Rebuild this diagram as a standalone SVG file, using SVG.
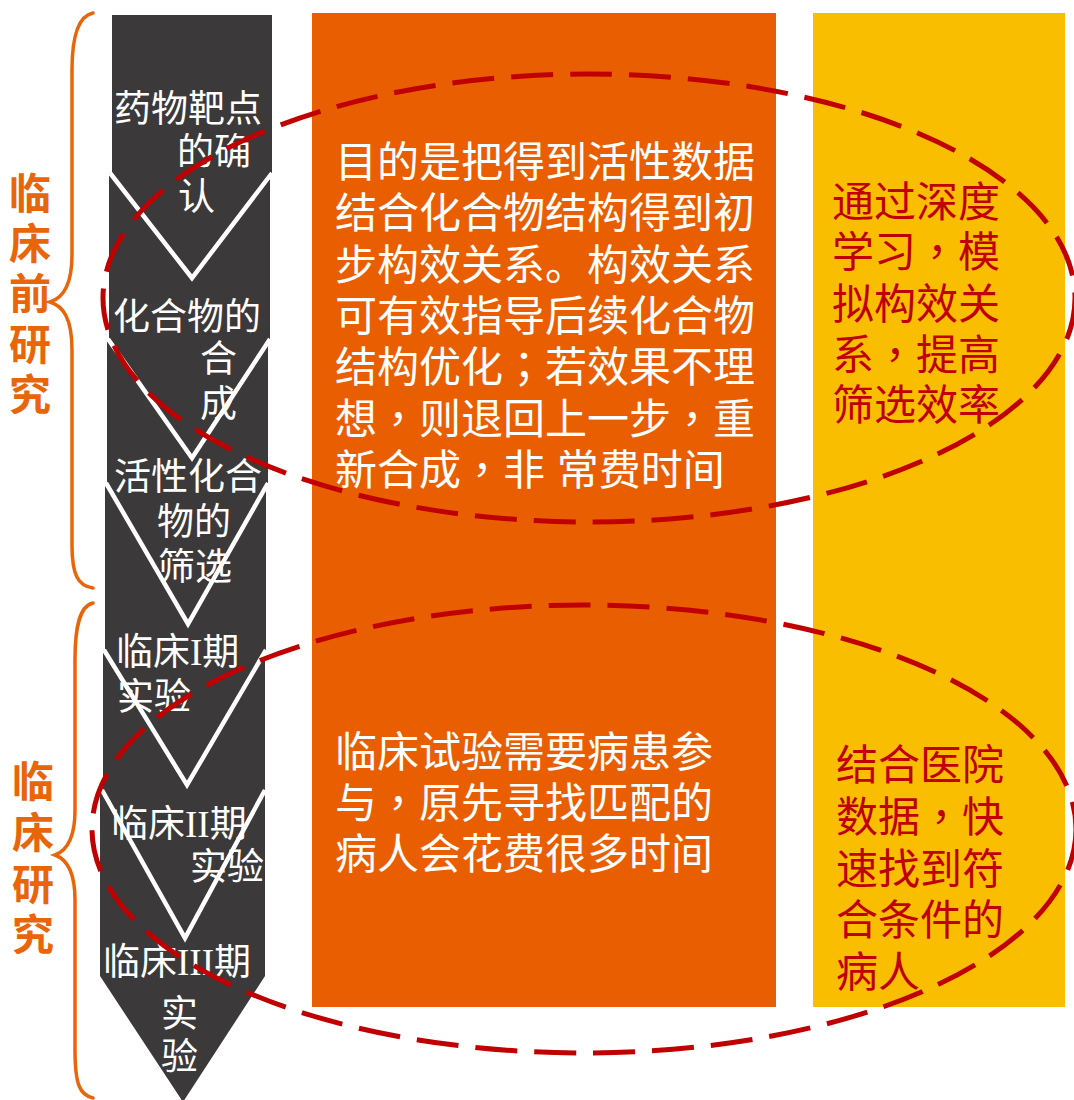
<svg xmlns="http://www.w3.org/2000/svg" width="1074" height="1100" viewBox="0 0 1074 1100">
<style>
.chev{fill:#3b393a}
.gap{fill:none;stroke:#ffffff;stroke-width:4.5;stroke-linejoin:miter}
.ct{font-family:'Liberation Sans','Noto Sans CJK SC',sans-serif;font-size:37px;fill:#ffffff}
.ser{font-family:'Liberation Serif','Noto Sans CJK SC',serif}
.p{font-family:'Noto Sans CJK TC',sans-serif}
.mt{font-family:'Liberation Sans','Noto Sans CJK SC',sans-serif;font-size:42px;fill:#ffffff}
.rt{font-family:'Liberation Sans','Noto Sans CJK SC',sans-serif;font-size:42px;fill:#c00000}
.lbl{font-family:'Liberation Sans','Noto Sans CJK SC',sans-serif;font-size:42px;font-weight:bold;fill:#e8650a;text-anchor:middle}
.brace{fill:none;stroke:#e8650a;stroke-width:3.5;stroke-linecap:round}
.oval{fill:none;stroke:#c00000;stroke-width:5;stroke-dasharray:42 17}
</style>
<rect width="1074" height="1100" fill="#ffffff"/>

<g id="box-middle">
<rect x="312" y="13" width="464" height="994" fill="#e95e00"/>
<text class="mt" x="335"><tspan x="335" y="177">目的是把得到活性数据</tspan><tspan x="335" y="228">结合化合物结构得到初</tspan><tspan x="335" y="280">步构效关系。构效关系</tspan><tspan x="335" y="331">可有效指导后续化合物</tspan><tspan x="335" y="382">结构优化<tspan class="p">；</tspan>若效果不理</tspan><tspan x="335" y="434">想<tspan class="p">，</tspan>则退回上一步<tspan class="p">，</tspan>重</tspan><tspan x="335" y="485">新合成<tspan class="p">，</tspan>非 常费时间</tspan></text>
<text class="mt" x="335"><tspan x="335" y="767">临床试验需要病患参</tspan><tspan x="335" y="818">与<tspan class="p">，</tspan>原先寻找匹配的</tspan><tspan x="335" y="869">病人会花费很多时间</tspan></text>
</g>

<g id="box-right">
<rect x="813" y="13" width="252" height="994" fill="#f9be00"/>
<text class="rt"><tspan x="832" y="217">通过深度</tspan><tspan x="832" y="267">学习<tspan class="p">，</tspan>模</tspan><tspan x="832" y="319">拟构效关</tspan><tspan x="832" y="370">系<tspan class="p">，</tspan>提高</tspan><tspan x="832" y="420">筛选效率</tspan></text>
<text class="rt"><tspan x="836" y="780">结合医院</tspan><tspan x="836" y="832">数据<tspan class="p">，</tspan>快</tspan><tspan x="836" y="884">速找到符</tspan><tspan x="836" y="935">合条件的</tspan><tspan x="836" y="987">病人</tspan></text>
</g>

<g id="chevrons">
<g id="step1">
<polygon class="chev" points="112,15 272,15 272,173 192,278 112,173"/>
</g>
<g id="step2">
<polygon class="chev" points="109,173 192,278 270,173 270,340 192,458 109,340"/>
</g>
<g id="step3">
<polygon class="chev" points="107,340 192,458 268,340 268,484 188,624 107,484"/>
</g>
<g id="step4">
<polygon class="chev" points="105,484 188,624 266,484 266,650 187,785 105,650"/>
</g>
<g id="step5">
<polygon class="chev" points="103,650 187,785 265,650 265,790 185,938 103,790"/>
</g>
<g id="step6">
<polygon class="chev" points="100,790 185,938 265,790 265,976 183,1102 100,976"/>
</g>
<polyline class="gap" points="110,173 192,278 272,173"/>
<polyline class="gap" points="108,339 192,458 270,339"/>
<polyline class="gap" points="106,483 188,624 268,483"/>
<polyline class="gap" points="104,650 187,785 266,650"/>
<polyline class="gap" points="102,790 185,938 265,790"/>
<text class="ct"><tspan x="114" y="122">药物靶点</tspan><tspan x="177" y="165">的确</tspan><tspan x="178" y="210">认</tspan></text>
<text class="ct"><tspan x="113" y="330">化合物的</tspan><tspan x="200" y="372">合</tspan><tspan x="200" y="417">成</tspan></text>
<text class="ct"><tspan x="114" y="490">活性化合</tspan><tspan x="157" y="535">物的</tspan><tspan x="158" y="580">筛选</tspan></text>
<text class="ct"><tspan x="116" y="665">临床<tspan class="ser">I</tspan>期</tspan><tspan x="117" y="710">实验</tspan></text>
<text class="ct"><tspan x="111" y="837">临床<tspan class="ser">II</tspan>期</tspan><tspan x="190" y="880">实验</tspan></text>
<text class="ct"><tspan x="103" y="975">临床<tspan class="ser">III</tspan>期</tspan><tspan x="161" y="1027">实</tspan><tspan x="161" y="1070">验</tspan></text>
</g>

<g id="group-preclinical">
<path class="brace" d="M93,13 C78,16 72,36 72,70 L72,255 C72,285 63,298 50,302 C63,306 72,318 72,350 L72,545 C72,575 78,586 93,588"/>
<text class="lbl"><tspan x="30" y="209">临</tspan><tspan x="30" y="259">床</tspan><tspan x="30" y="309">前</tspan><tspan x="30" y="360">研</tspan><tspan x="30" y="410">究</tspan></text>
</g>

<g id="group-clinical">
<path class="brace" d="M93,603 C80,606 75,625 75,660 L75,810 C75,840 66,851 55,855 C66,859 75,870 75,900 L75,1050 C75,1085 80,1095 93,1098"/>
<text class="lbl"><tspan x="33" y="797">临</tspan><tspan x="33" y="848">床</tspan><tspan x="33" y="900">研</tspan><tspan x="33" y="950">究</tspan></text>
</g>

<g id="connectors">
<ellipse id="oval-top" class="oval" cx="589" cy="298" rx="486" ry="224"/>
<ellipse id="oval-bottom" class="oval" cx="584" cy="829" rx="492" ry="224"/>
</g>
</svg>
